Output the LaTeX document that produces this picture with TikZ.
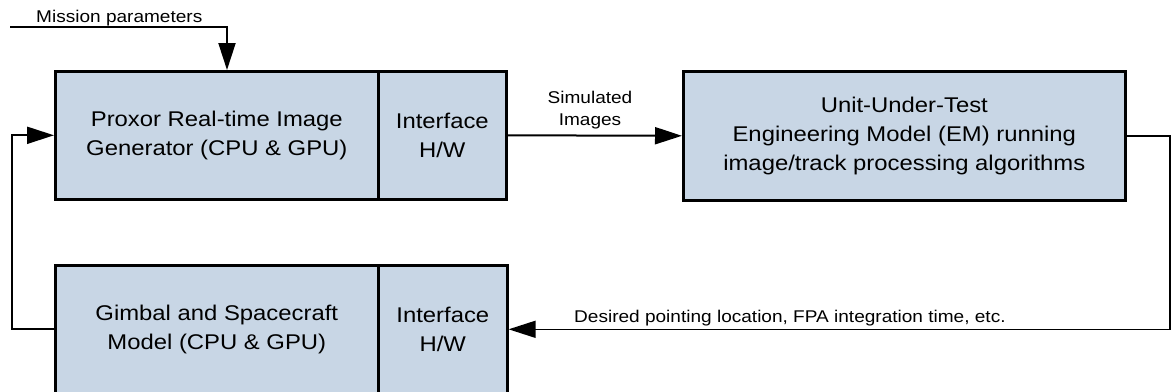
\documentclass[tikz,border=0pt]{standalone}
\usepackage{fontspec}
\setmainfont{Liberation Sans}[FakeStretch=1.12]
\usetikzlibrary{arrows.meta}
\definecolor{boxfill}{RGB}{200,214,229}
\begin{document}
\begin{tikzpicture}[x=1pt,y=-1pt,
  blk/.style={draw=black,line width=2.6pt,fill=boxfill,anchor=north west,inner sep=0pt,align=center,font=\fontsize{21.3}{28.8}\selectfont},
  conn/.style={line width=2pt,-{Triangle[length=27pt,width=17pt]}},
  lbl/.style={font=\fontsize{17}{22}\selectfont,inner sep=0pt}]
\useasboundingbox (0,0) rectangle (1172,391);
\clip (0,0) rectangle (1172,391);
\node[blk,minimum width=323pt,minimum height=128pt] (gen) at (54,70) {Proxor Real-time Image\\Generator (CPU \& GPU)};
\node[blk,minimum width=128pt,minimum height=128pt] (ifa) at (377,70) {Interface\\H/W};
\node[blk,minimum width=442pt,minimum height=129pt] (uut) at (682,70) {Unit-Under-Test\\Engineering Model (EM) running\\image/track processing algorithms};
\node[blk,minimum width=323pt,minimum height=128pt] (gim) at (54,264) {Gimbal and Spacecraft\\Model (CPU \& GPU)};
\node[blk,minimum width=129pt,minimum height=128pt] (ifb) at (377,264) {Interface\\H/W};
\coordinate (mstart) at (10,27);
\coordinate (lc) at (12,0);
\coordinate (rc) at (1170,0);
\draw[conn] (mstart) -| ([xshift=173pt]gen.north west);
\node[lbl,anchor=base west] (mlab) at (36,22) {Mission parameters};
\draw[conn] (gim.west) -- (gim.west -| lc) -- (gen.west -| lc) -- (gen.west);
\draw[conn] (ifa.east) -- (uut.west);
\node[lbl,align=center,anchor=south] (slab) at (590,129) {Simulated\\Images};
\draw[conn,line width=1.5pt] (uut.east) -- (uut.east -| rc) -- (ifb.east -| rc) -- (ifb.east);
\node[lbl,anchor=base west] (dlab) at (574,322) {Desired pointing location, FPA integration time, etc.};
\end{tikzpicture}
\end{document}
